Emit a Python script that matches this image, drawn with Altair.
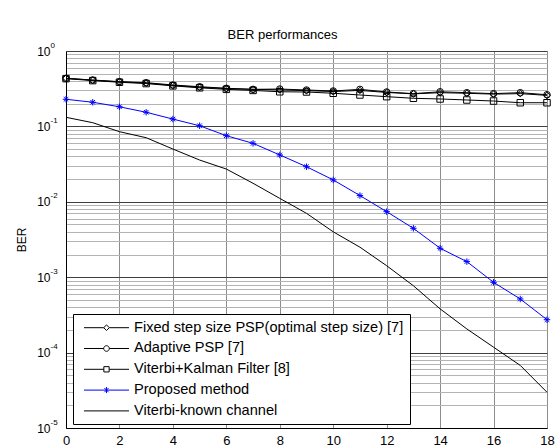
import altair as alt
import pandas as pd

F = "Liberation Sans"

snr = list(range(0, 19))

series_names = [
    "Fixed step size PSP(optimal step size) [7]",
    "Adaptive PSP [7]",
    "Viterbi+Kalman Filter [8]",
    "Proposed method",
    "Viterbi-known channel",
]
series_colors = ["black", "black", "black", "#0000ff", "black"]

ber_fixed = [0.435, 0.41, 0.39, 0.375, 0.35, 0.33, 0.318, 0.31, 0.305, 0.298, 0.29,
             0.30, 0.282, 0.27, 0.28, 0.275, 0.268, 0.272, 0.258]
ber_adaptive = [0.434, 0.412, 0.392, 0.38, 0.354, 0.336, 0.32, 0.31, 0.313, 0.304, 0.295,
                0.31, 0.286, 0.272, 0.288, 0.28, 0.272, 0.28, 0.263]
ber_kalman = [0.43, 0.405, 0.385, 0.37, 0.345, 0.325, 0.31, 0.30, 0.288, 0.286, 0.275,
              0.261, 0.248, 0.236, 0.231, 0.224, 0.217, 0.206, 0.206]
ber_proposed = [0.229, 0.209, 0.182, 0.154, 0.125, 0.102, 0.0753, 0.0596, 0.0418, 0.0292,
                0.0195, 0.0121, 0.0074, 0.00445, 0.00242, 0.00161, 0.000855, 0.000514, 0.000273]
ber_known = [0.132, 0.112, 0.0851, 0.0708, 0.0501, 0.0358, 0.0272, 0.0176, 0.0111, 0.00703,
             0.0040, 0.0025, 0.00142, 0.00077, 0.00038, 0.000206, 0.000118, 0.0000676, 0.0000298]

x_ticks = list(range(0, 19, 2))
y_decades = [1e-5, 1e-4, 1e-3, 1e-2, 1e-1, 1.0]

all_series = [ber_fixed, ber_adaptive, ber_kalman, ber_proposed, ber_known]
rows = []
for name, vals in zip(series_names, all_series):
    for xv, yv in zip(snr, vals):
        rows.append({"snr": xv, "ber": yv, "series": name})
df = pd.DataFrame(rows)

y_all = []
for d in y_decades[:-1]:
    for m in range(1, 10):
        y_all.append(round(d * m, 12))
y_all.append(1.0)

star = "M-1,0H1M0,-1V1M-0.7,-0.7L0.7,0.7M-0.7,0.7L0.7,-0.7"
marker_shapes = ["diamond", "circle", "square", star]

# legend symbols: line sample with marker
leg_paths = [
    "M-0.54,0H3.4M4.52,0H8.46M3.96,-0.56L4.52,0L3.96,0.56L3.4,0Z",
    "M-0.54,0H3.4M4.52,0H8.46M4.52,0A0.56,0.56,0,1,1,3.4,0A0.56,0.56,0,1,1,4.52,0Z",
    "M-0.54,0H3.43M4.49,0H8.46M3.43,-0.53H4.49V0.53H3.43Z",
    "M-0.54,0H8.46M3.96,-0.6V0.6M3.54,-0.42L4.38,0.42M3.54,0.42L4.38,-0.42",
    "M-0.54,0H8.46",
]

shape_expr = "'" + leg_paths[-1] + "'"
for n, p in reversed(list(zip(series_names[:-1], leg_paths[:-1]))):
    shape_expr = "datum.value === '%s' ? '%s' : (%s)" % (n, p, shape_expr)

color_scale = alt.Scale(domain=series_names, range=series_colors)
y_scale = alt.Scale(type="log", domain=[1e-5, 1], nice=False)
x_scale = alt.Scale(domain=[0, 18], nice=False)

major_test = "abs(log(datum.value)/LN10 - round(log(datum.value)/LN10)) < 0.001"

x_axis = alt.Axis(values=x_ticks, title=None, grid=True, gridColor="#8c8c8c",
                  ticks=False, domainColor="black", labelFontSize=13, labelFont=F,
                  labelColor="black", labelFlush=False, labelPadding=6)

axis_a = alt.Axis(orient="left", values=y_all,
                  labelExpr=major_test + " ? '10' : ''",
                  title="BER", titleFontSize=12, titleFontWeight="normal", titleFont=F,
                  titleColor="black", titlePadding=8,
                  labelFontSize=12, labelFont=F, labelColor="black", labelPadding=16,
                  labelAlign="right", labelOverlap=False, ticks=False,
                  domainColor="black", grid=True,
                  gridColor={"condition": {"test": major_test, "value": "#404040"}, "value": "#b4b4b4"})

axis_b = alt.Axis(orient="left", values=y_decades,
                  labelExpr="'' + round(log(datum.value)/LN10)",
                  title=None, labelFontSize=8, labelFont=F, labelColor="black",
                  labelAlign="left", labelPadding=16, labelOffset=-6,
                  labelOverlap=False, ticks=False, domain=False, grid=False)

legend = alt.Legend(orient="none", legendX=7, legendY=263, title=None, padding=6.4,
                    rowPadding=5.8, symbolSize=100, labelOffset=40, labelFontSize=14.6,
                    labelFont=F, labelColor="black", labelLimit=400, strokeColor="black",
                    fillColor="white", cornerRadius=0, symbolStrokeWidth=1,
                    symbolFillColor="transparent",
                    symbolType=alt.ExprRef(expr=shape_expr))

base = alt.Chart(df)
lines = base.mark_line(strokeWidth=1).encode(
    x=alt.X("snr:Q", scale=x_scale, axis=x_axis),
    y=alt.Y("ber:Q", scale=y_scale, axis=axis_a),
    color=alt.Color("series:N", scale=color_scale, legend=legend),
    order="snr:Q",
)
layers = [lines]
for i, (name, shp) in enumerate(zip(series_names[:-1], marker_shapes)):
    pts = base.transform_filter(
        alt.datum.series == name
    ).mark_point(filled=False, size=42, strokeWidth=1, opacity=1, shape=shp).encode(
        x=alt.X("snr:Q", scale=x_scale, axis=x_axis),
        y=alt.Y("ber:Q", scale=y_scale, axis=axis_b if i == 0 else None),
        color=alt.Color("series:N", scale=color_scale, legend=None),
    )
    layers.append(pts)

chart = alt.layer(*layers).resolve_axis(y="independent").properties(
    width=481, height=377,
    title=alt.TitleParams("BER performances", fontSize=13, fontWeight="normal", font=F,
                          color="black", anchor="middle", dx=-24, dy=23, offset=9,
                          baseline="bottom"),
    padding={"left": 66, "top": 51, "right": 13, "bottom": 20},
    autosize="none",
).configure_view(stroke="black", strokeWidth=1).configure(background="white")

chart.save("out.html", embed_options={"renderer": "svg", "actions": False})
